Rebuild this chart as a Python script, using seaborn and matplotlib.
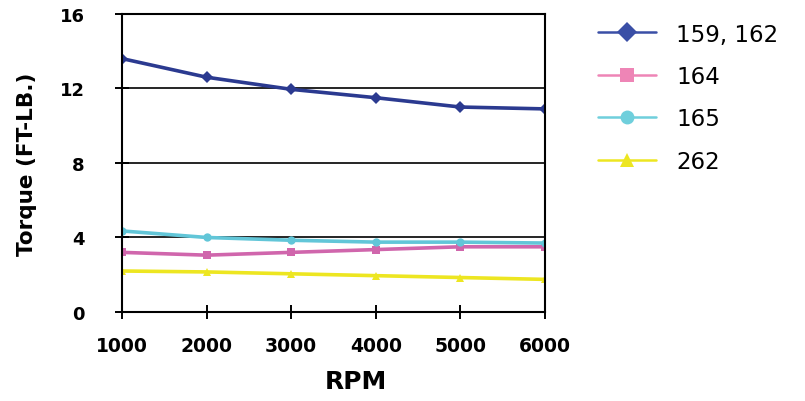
import pandas as pd
import matplotlib
matplotlib.use("Agg")
import matplotlib.pyplot as plt
import seaborn as sns

# Data
rpm = [1000, 2000, 3000, 4000, 5000, 6000]
torque_159_162 = [13.6, 12.6, 11.95, 11.5, 11.0, 10.9]
torque_164 = [3.2, 3.05, 3.2, 3.35, 3.5, 3.5]
torque_165 = [4.35, 4.0, 3.85, 3.75, 3.75, 3.7]
torque_262 = [2.2, 2.15, 2.05, 1.95, 1.85, 1.75]

series_names = ["159, 162", "164", "165", "262"]
series_values = [torque_159_162, torque_164, torque_165, torque_262]
colors = ["#2B3A90", "#D066AC", "#62C6D8", "#EDE621"]
legend_colors = ["#3A4FA6", "#EE85B6", "#6FCFDC", "#EDE621"]
marker_styles = ["D", "s", "o", "^"]

y_ticks = [0, 4, 8, 12, 16]
x_ticks = [1000, 2000, 3000, 4000, 5000, 6000]

rows = []
for name, vals in zip(series_names, series_values):
    for r, v in zip(rpm, vals):
        rows.append({"RPM": r, "Torque": v, "Model": name})
df = pd.DataFrame(rows)

sns.set_style("ticks")
fig = plt.figure(figsize=(8.05, 4.02), dpi=100)
ax = fig.add_axes([0.1516, 0.2214, 0.5255, 0.7416])

sns.lineplot(data=df, x="RPM", y="Torque", hue="Model", style="Model",
             hue_order=series_names, style_order=series_names,
             palette=dict(zip(series_names, colors)),
             markers=dict(zip(series_names, marker_styles)),
             dashes=False, linewidth=2.6, markersize=6, markeredgewidth=0,
             legend=True, ax=ax)

ax.set_xlim(1000, 6000)
ax.set_ylim(0, 16)
ax.set_xticks(x_ticks)
ax.set_yticks(y_ticks)
ax.set_xticklabels([str(t) for t in x_ticks], fontweight="bold", fontsize=13.5)
ax.set_yticklabels([str(t) for t in y_ticks], fontweight="bold", fontsize=13)

# horizontal gridlines only
ax.yaxis.grid(True, color="black", linewidth=1.2)
ax.xaxis.grid(False)
ax.set_axisbelow(True)
for s in ax.spines.values():
    s.set_visible(True)
    s.set_color("black")
    s.set_linewidth(1.5)
ax.tick_params(axis="both", which="major", direction="inout", length=10, width=1.4,
               colors="black", bottom=True, left=True, top=False, right=False)
ax.tick_params(axis="y", pad=22)
ax.tick_params(axis="x", pad=12)

ax.set_xlabel("RPM", fontsize=18, fontweight="bold", color="black")
ax.set_ylabel("Torque (FT-LB.)", fontsize=15.5, fontweight="bold", color="black")
ax.xaxis.set_label_coords(0.553, -0.19)
ax.yaxis.set_label_coords(-0.2, 0.5)

# legend outside on the right
ax.get_legend().remove()
handles, labels = ax.get_legend_handles_labels()
leg = fig.legend(handles, labels, loc="upper left", bbox_to_anchor=(0.729, 0.97),
                 frameon=False, fontsize=16.5, handlelength=2.5, handletextpad=0.9,
                 labelspacing=0.85, borderpad=0)
for h, c in zip(leg.get_lines(), legend_colors):
    h.set_linewidth(1.8)
    h.set_markersize(10)
    h.set_color(c)
for t in leg.get_texts():
    t.set_color("black")

fig.savefig("out.png", dpi=100)
